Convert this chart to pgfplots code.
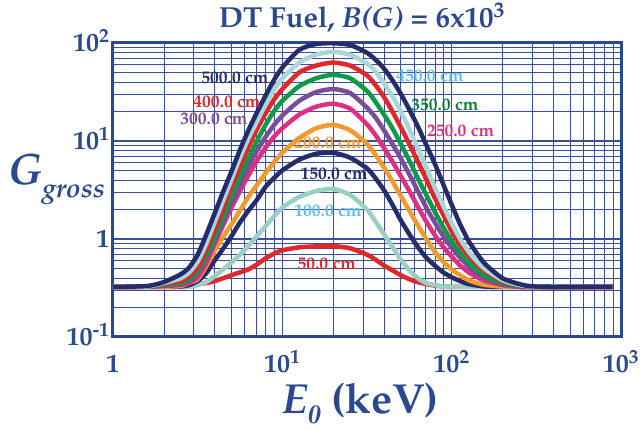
\documentclass[border=0pt]{standalone}
\usepackage[T1]{fontenc}
\usepackage{mathpazo}
\usepackage{pgfplots}
\usepackage{pgfplotstable}
\pgfplotsset{compat=1.18}

\definecolor{axisblue}{HTML}{2B498F}
\definecolor{gridblue}{HTML}{3A4E9C}
\definecolor{cnavy}{HTML}{252B6B}
\definecolor{clb}{HTML}{A9D6DA}
\definecolor{csky}{HTML}{5BC3EA}
\definecolor{cred}{HTML}{E1262C}
\definecolor{cgreen}{HTML}{0E9A48}
\definecolor{cpurple}{HTML}{7D4B9B}
\definecolor{cpink}{HTML}{DF2F82}
\definecolor{corange}{HTML}{F39A2C}
\definecolor{cteal}{HTML}{9ACFC6}

\pgfplotstableread{
E c500 c450 c400 c350 c300 c250 c200 c150 c100 c50
1 0.324 0.324 0.324 0.324 0.324 0.324 0.324 0.324 0.324 0.324
1.585 0.331 0.327 0.327 0.327 0.327 0.326 0.324 0.324 0.324 0.324
1.995 0.363 0.355 0.347 0.339 0.335 0.331 0.326 0.324 0.324 0.324
2.512 0.437 0.398 0.372 0.355 0.347 0.339 0.331 0.327 0.324 0.324
2.818 0.513 0.457 0.417 0.389 0.372 0.355 0.355 0.339 0.327 0.327
3.162 0.692 0.589 0.513 0.468 0.447 0.407 0.389 0.372 0.339 0.347
3.548 1.096 0.891 0.776 0.676 0.646 0.562 0.525 0.447 0.363 0.355
3.981 1.82 1.48 1.23 1.047 0.955 0.891 0.759 0.603 0.417 0.372
4.467 3.02 2.46 2.04 1.70 1.514 1.38 1.047 0.794 0.490 0.398
5.012 4.90 4.07 3.39 2.75 2.34 2.09 1.413 1.072 0.575 0.427
5.623 8.13 6.76 5.50 4.37 3.63 3.09 1.95 1.479 0.692 0.457
6.310 12.9 10.7 8.71 6.76 5.50 4.47 2.69 1.95 0.851 0.490
7.079 19.5 15.8 13.2 10.0 7.94 6.31 3.55 2.51 1.072 0.550
7.943 28.8 23.4 19.0 14.5 10.96 8.51 4.68 3.39 1.349 0.631
8.913 41.7 33.1 26.3 20.0 14.45 11.0 6.03 4.17 1.698 0.708
10 56.2 43.7 33.9 25.7 18.2 13.5 7.59 5.01 2.089 0.767
12.59 85.1 63.1 50.1 36.3 25.7 18.6 10.7 6.46 2.69 0.822
15.85 97.7 75.9 58.9 43.7 31.6 22.4 13.5 7.41 3.09 0.841
19.95 99.5 81.3 63.1 47.3 33.9 24.0 14.6 7.59 3.24 0.847
25.12 95.5 75.9 58.9 43.7 30.9 21.4 12.9 6.76 2.82 0.804
31.62 79.4 61.7 46.8 32.4 21.9 14.8 9.33 5.25 2.00 0.692
35.48 67.6 51.3 37.2 25.1 17.4 11.5 7.24 4.17 1.51 0.617
39.81 55.0 38.9 28.2 18.6 12.9 8.51 5.37 3.16 1.12 0.537
44.67 41.7 28.8 20.0 13.5 9.33 6.17 3.89 2.24 0.832 0.479
50.12 30.2 20.0 13.8 9.33 6.61 4.37 2.75 1.55 0.617 0.427
56.23 20.9 13.2 9.33 6.31 4.57 3.09 1.95 1.12 0.479 0.389
63.10 14.1 8.51 6.17 4.17 3.09 2.14 1.38 0.832 0.398 0.363
70.79 9.12 5.37 4.07 2.82 2.09 1.51 1.00 0.646 0.355 0.347
79.43 5.89 3.39 2.63 1.91 1.48 1.10 0.741 0.537 0.339 0.335
89.13 3.63 2.19 1.78 1.32 1.07 0.832 0.589 0.457 0.327 0.327
100 2.24 1.45 1.20 0.955 0.813 0.661 0.490 0.407 0.324 0.324
112.2 1.41 1.00 0.871 0.724 0.646 0.537 0.427 0.372 0.324 0.324
125.9 0.955 0.741 0.676 0.575 0.525 0.457 0.380 0.347 0.324 0.324
141.3 0.708 0.589 0.550 0.479 0.447 0.407 0.355 0.335 0.324 0.324
158.5 0.550 0.490 0.468 0.417 0.398 0.372 0.339 0.327 0.324 0.324
199.5 0.398 0.380 0.372 0.355 0.347 0.339 0.327 0.324 0.324 0.324
251.2 0.347 0.339 0.335 0.331 0.327 0.324 0.324 0.324 0.324 0.324
316.2 0.327 0.327 0.324 0.324 0.324 0.324 0.324 0.324 0.324 0.324
891 0.324 0.324 0.324 0.324 0.324 0.324 0.324 0.324 0.324 0.324
}\gdata

\begin{document}
\begin{tikzpicture}
\begin{axis}[
  at={(0pt,0pt)}, anchor=south west,
  scale only axis, width=508pt, height=294pt,
  xmode=log, ymode=log,
  xmin=1, xmax=1000, ymin=0.1, ymax=100,
  grid=both,
  major grid style={gridblue, line width=1.2pt},
  minor grid style={gridblue, line width=0.9pt},
  axis line style={axisblue, line width=3pt},
  major tick length=0pt, minor tick length=0pt,
  xtick={1,10,100,1000},
  minor xtick={2,3,4,5,6,7,8,9,20,30,40,50,60,70,80,90,200,300,400,500,600,700,800,900},
  ytick={0.1,1,10,100},
  minor ytick={0.2,0.3,0.4,0.5,0.6,0.7,0.8,0.9,2,3,4,5,6,7,8,9,20,30,40,50,60,70,80,90},
  xticklabels={{\textbf{1}},{\textbf{10\textsuperscript{1}}},{\textbf{10\textsuperscript{2}}},{\textbf{10\textsuperscript{3}}}},
  yticklabels={{\textbf{10\textsuperscript{-1}}},{\textbf{1}},{\textbf{10\textsuperscript{1}}},{\textbf{10\textsuperscript{2}}}},
  tick label style={font=\fontsize{26}{26}\selectfont\bfseries, color=axisblue},
  xticklabel style={anchor=base, yshift=-36pt},
  yticklabel style={anchor=base east, yshift=-9pt},
  every axis plot/.append style={line width=4.5pt, smooth, tension=0.4, line join=round},
  clip=true,
]
\addplot[cred] table[x=E, y=c50] {\gdata};
\addplot[cteal] table[x=E, y=c100] {\gdata};
\addplot[cnavy] table[x=E, y=c150] {\gdata};
\addplot[corange] table[x=E, y=c200] {\gdata};
\addplot[cpink] table[x=E, y=c250] {\gdata};
\addplot[cpurple] table[x=E, y=c300] {\gdata};
\addplot[cgreen] table[x=E, y=c350] {\gdata};
\addplot[cred] table[x=E, y=c400] {\gdata};
\addplot[clb] table[x=E, y=c450] {\gdata};
\addplot[cnavy] table[x=E, y=c500] {\gdata};

\begin{scope}[every node/.style={font=\fontsize{17.5}{17.5}\selectfont\bfseries}]
\node[text=cnavy] at (axis cs:5.25,44) {500.0 cm};
\node[text=cred] at (axis cs:4.71,25.0) {400.0 cm};
\node[text=cpurple] at (axis cs:3.95,16.7) {300.0 cm};
\node[text=csky] at (axis cs:74.3,46) {450.0 cm};
\node[text=cgreen!80!black] at (axis cs:91.2,23.3) {350.0 cm};
\node[text=cpink] at (axis cs:113,12.6) {250.0 cm};
\node[text=corange] at (axis cs:18.6,9.55) {200.0 cm};
\node[text=cnavy] at (axis cs:20.2,4.60) {150.0 cm};
\node[text=csky] at (axis cs:18.6,1.93) {100.0 cm};
\node[text=cred] at (axis cs:18.3,0.556) {50.0 cm};
\end{scope}
\end{axis}

\node[anchor=base, text=axisblue, font=\fontsize{29}{29}\selectfont\bfseries] at (249pt,309pt)
  {DT Fuel, \textit{B}\textit{(G)} = 6x10\textsuperscript{3}};
\node[anchor=base west, text=axisblue, inner sep=0pt] at (-105pt,152pt)
  {\fontsize{44}{44}\selectfont\bfseries\itshape G\raisebox{-13pt}{\fontsize{27}{27}\selectfont gross}};
\node[anchor=base west, text=axisblue, inner sep=0pt] at (169pt,-77pt)
  {\fontsize{42}{42}\selectfont\bfseries\itshape E\raisebox{-10pt}{\fontsize{26}{26}\selectfont 0}\upshape\ (keV)};

\pgfresetboundingbox
\useasboundingbox (-113pt,-93pt) rectangle (530pt,337pt);
\end{tikzpicture}
\end{document}
